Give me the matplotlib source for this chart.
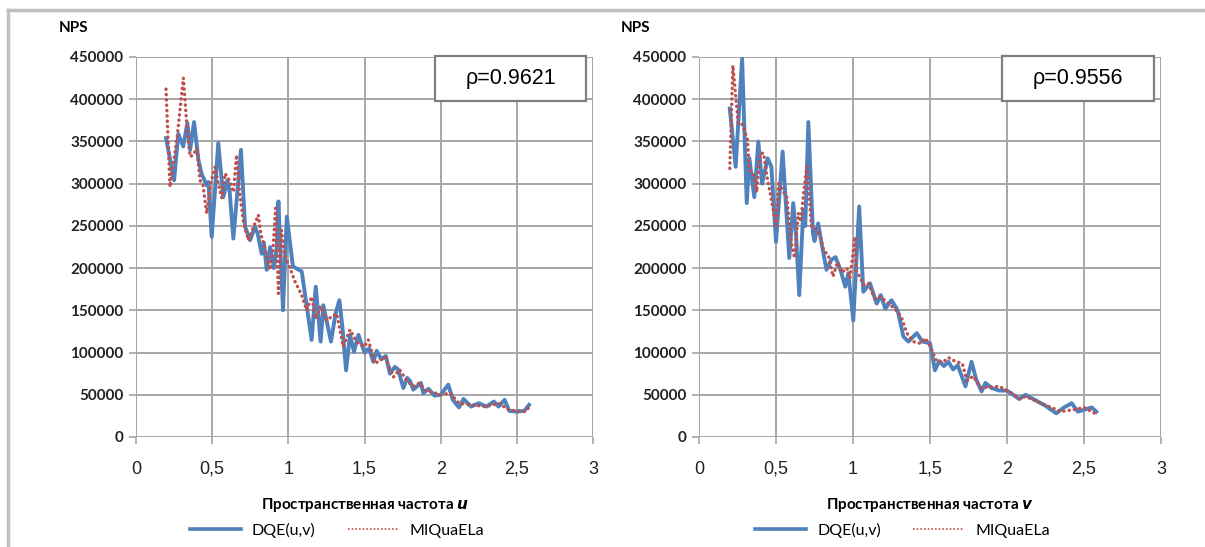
import matplotlib
matplotlib.use("Agg")
import matplotlib.pyplot as plt
from matplotlib.patches import Rectangle
from matplotlib.lines import Line2D

# ---- data (NPS vs spatial frequency) ----
u_dqe_x = [0.197, 0.25, 0.278, 0.31, 0.337, 0.355, 0.381, 0.41, 0.43, 0.464, 0.475, 0.497,
           0.54, 0.573, 0.60, 0.615, 0.639, 0.689, 0.716, 0.749, 0.781, 0.80, 0.825, 0.84,
           0.858, 0.88, 0.905, 0.924, 0.935, 0.965, 0.99, 1.03, 1.088, 1.153, 1.18, 1.212,
           1.23, 1.28, 1.31, 1.335, 1.355, 1.379, 1.405, 1.431, 1.46, 1.50, 1.53, 1.558,
           1.58, 1.61, 1.64, 1.667, 1.70, 1.72, 1.755, 1.78, 1.80, 1.82, 1.87, 1.886, 1.92,
           1.96, 2.0, 2.05, 2.08, 2.12, 2.15, 2.2, 2.25, 2.3, 2.35, 2.38, 2.42, 2.45, 2.5,
           2.55, 2.58]
u_dqe_y = [354000, 304000, 359000, 344000, 372000, 340000, 373000, 328000, 312000, 298000,
           302000, 237000, 348000, 284000, 304000, 290000, 235000, 340000, 249000, 233000,
           249000, 240000, 217000, 230000, 198000, 225000, 200000, 225000, 279000, 150000,
           261000, 202000, 196000, 115000, 178000, 113000, 156000, 113000, 146000, 162000,
           130000, 79000, 121000, 101000, 121000, 100000, 105000, 89000, 102000, 92000,
           96000, 75000, 83000, 80000, 58000, 70000, 66000, 56000, 64000, 52000, 57000,
           49000, 50000, 62000, 44000, 35000, 45000, 36000, 40000, 36000, 42000, 36000,
           44000, 31000, 30000, 31000, 38000]

u_miq_x = [0.197, 0.223, 0.27, 0.311, 0.333, 0.355, 0.375, 0.40, 0.42, 0.44, 0.464, 0.49,
           0.519, 0.54, 0.563, 0.585, 0.61, 0.64, 0.66, 0.68, 0.705, 0.737, 0.77, 0.803,
           0.82, 0.84, 0.86, 0.88, 0.90, 0.917, 0.935, 0.955, 0.975, 1.0, 1.044, 1.088,
           1.12, 1.153, 1.18, 1.21, 1.25, 1.28, 1.318, 1.36, 1.405, 1.45, 1.50, 1.525,
           1.57, 1.635, 1.69, 1.73, 1.78, 1.82, 1.86, 1.9, 1.95, 2.0, 2.06, 2.12, 2.2,
           2.3, 2.38, 2.45, 2.55, 2.58]
u_miq_y = [412000, 296000, 355000, 425000, 371000, 332000, 334000, 342000, 304000, 298000,
           265000, 300000, 320000, 300000, 283000, 312000, 305000, 290000, 334000, 290000,
           255000, 233000, 248000, 263000, 240000, 228000, 212000, 198000, 225000, 271000,
           170000, 245000, 215000, 205000, 184000, 168000, 150000, 166000, 140000, 155000,
           138000, 142000, 146000, 107000, 127000, 112000, 107000, 115000, 87000, 95000,
           71000, 80000, 66000, 60000, 64000, 55000, 53000, 50000, 52000, 40000, 38000,
           36000, 40000, 32000, 30000, 35000]

v_dqe_x = [0.20, 0.238, 0.28, 0.31, 0.327, 0.359, 0.385, 0.41, 0.446, 0.47, 0.50, 0.543,
           0.586, 0.612, 0.63, 0.651, 0.677, 0.69, 0.71, 0.74, 0.75, 0.774, 0.80, 0.828,
           0.86, 0.887, 0.92, 0.95, 0.97, 1.002, 1.04, 1.067, 1.11, 1.154, 1.18, 1.21, 1.25,
           1.29, 1.327, 1.36, 1.414, 1.45, 1.50, 1.532, 1.56, 1.59, 1.62, 1.65, 1.68, 1.73,
           1.77, 1.80, 1.835, 1.86, 1.9, 1.95, 2.0, 2.08, 2.12, 2.2, 2.25, 2.32, 2.37, 2.42,
           2.46, 2.55, 2.58]
v_dqe_y = [389000, 320000, 448000, 277000, 330000, 284000, 350000, 300000, 330000, 320000,
           231000, 338000, 212000, 277000, 240000, 168000, 269000, 250000, 373000, 241000,
           232000, 253000, 225000, 198000, 210000, 213000, 197000, 178000, 194000, 138000,
           273000, 172000, 182000, 158000, 168000, 152000, 162000, 150000, 119000, 113000,
           123000, 113000, 111000, 79000, 90000, 84000, 89000, 80000, 85000, 60000, 89000,
           68000, 54000, 64000, 58000, 55000, 55000, 45000, 50000, 42000, 37000, 28000,
           35000, 40000, 30000, 35000, 30000]

v_miq_x = [0.20, 0.22, 0.255, 0.283, 0.315, 0.327, 0.355, 0.375, 0.396, 0.42, 0.44, 0.47,
           0.50, 0.517, 0.55, 0.57, 0.60, 0.62, 0.645, 0.66, 0.68, 0.70, 0.73, 0.77, 0.79,
           0.81, 0.84, 0.87, 0.90, 0.93, 0.96, 0.98, 1.013, 1.02, 1.07, 1.10, 1.14, 1.18,
           1.23, 1.27, 1.312, 1.35, 1.39, 1.435, 1.47, 1.50, 1.54, 1.58, 1.62, 1.66, 1.71,
           1.74, 1.78, 1.83, 1.87, 1.95, 2.03, 2.08, 2.12, 2.22, 2.3, 2.35, 2.45, 2.5, 2.58]
v_miq_y = [318000, 440000, 371000, 370000, 352000, 316000, 310000, 290000, 336000, 336000,
           310000, 281000, 250000, 300000, 290000, 284000, 229000, 212000, 265000, 255000,
           290000, 320000, 250000, 245000, 235000, 221000, 215000, 190000, 207000, 195000,
           200000, 188000, 237000, 198000, 180000, 182000, 164000, 166000, 158000, 152000,
           143000, 123000, 113000, 111000, 117000, 108000, 91000, 88000, 94000, 90000,
           87000, 67000, 72000, 58000, 59000, 60000, 52000, 45000, 48000, 40000, 34000,
           30000, 33000, 35000, 27000]

panels = [
    ("u", u_dqe_x, u_dqe_y, u_miq_x, u_miq_y, "ρ=0.9621"),
    ("v", v_dqe_x, v_dqe_y, v_miq_x, v_miq_y, "ρ=0.9556"),
]
series_names = ["DQE(u,v)", "MIQuaELa"]

blue = "#4F81BD"
red = "#C0504D"
grid_color = "#A6A6A6"

W, H = 1205, 547
fig = plt.figure(figsize=(W / 100, H / 100), dpi=100)

# outer frame (top and left edges only visible)
fig.add_artist(Line2D([8 / W, 1], [1 - 10 / H] * 2, color="#C0C0C0", lw=2.5))
fig.add_artist(Line2D([8 / W] * 2, [0, 1 - 10 / H], color="#C0C0C0", lw=2.5))

axes_px = [(136, 593), (699, 1161)]
top_px, bot_px = 57, 437

for (x0, x1), (var, dx, dy, mx, my, rho) in zip(axes_px, panels):
    ax = fig.add_axes([x0 / W, 1 - bot_px / H, (x1 - x0) / W, (bot_px - top_px) / H])
    ax.plot(dx, dy, color=blue, lw=2.8, solid_joinstyle="round")
    ax.plot(mx, my, color=red, lw=2.4, linestyle=(0, (0.1, 1.5)), dash_capstyle="round")

    ax.set_xlim(0, 3)
    ax.set_ylim(0, 450000)
    ax.set_xticks([0, 0.5, 1, 1.5, 2, 2.5, 3])
    ax.set_xticklabels(["0", "0,5", "1", "1,5", "2", "2,5", "3"],
                       fontsize=13, family="Liberation Sans", color="#222222")
    ax.set_yticks(range(0, 450001, 50000))
    ax.set_yticklabels([str(v) for v in range(0, 450001, 50000)],
                       fontsize=11, family="Lato", fontweight="bold", color="#222222")
    for s in ax.spines.values():
        s.set_visible(False)
    ax.grid(True, color=grid_color, lw=1.4)
    ax.tick_params(axis="both", color=grid_color, width=1.2, length=5)
    ax.tick_params(axis="x", pad=12)
    ax.tick_params(axis="y", pad=4)

    ax.set_xlabel("Пространственная частота $\\mathbfit{%s}$" % var,
                  fontsize=11, family="Lato", fontweight="bold", labelpad=13)
    ax.text(-0.17, 1.075, "NPS", transform=ax.transAxes, fontsize=11,
            family="Lato", fontweight="bold", va="center", ha="left")

    # correlation box
    ax.add_patch(Rectangle((1.965, 398000), 0.99, 53000, facecolor="white",
                           edgecolor="#7F7F7F", lw=1.6, clip_on=False, zorder=5))
    ax.text(2.46, 424500, rho, fontsize=15.5, family="Liberation Sans",
            ha="center", va="center", zorder=6)

    handles = [Line2D([], [], color=blue, lw=2.6),
               Line2D([], [], color=red, lw=1.2, linestyle=(0, (1, 1.2)))]
    ax.legend(handles, series_names, loc="center", bbox_to_anchor=(0.44, -0.245),
              ncol=2, frameon=False, handlelength=3.2, handletextpad=0.7,
              columnspacing=2.0, borderpad=0, prop={"family": "Lato", "size": 11.5})

fig.savefig("out.png", dpi=100)
